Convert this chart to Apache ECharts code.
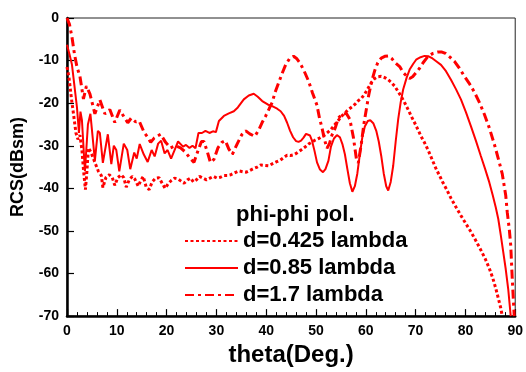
<!DOCTYPE html>
<html>
<head>
<meta charset="utf-8">
<script src="https://cdn.jsdelivr.net/npm/echarts@6/dist/echarts.min.js"></script>
<style>html,body{margin:0;padding:0;background:#fff}#c{width:526px;height:372px}</style>
</head>
<body>
<div id="c"></div>
<script>
// ---- data ----
const seriesNames = ['d=0.425 lambda', 'd=0.85 lambda', 'd=1.7 lambda'];
const legendTitle = 'phi-phi pol.';
const xTitle = 'theta(Deg.)';
const yTitle = 'RCS(dBsm)';

const thetaA = [0,0.4,0.9,1.3,1.8,2.2,2.6,3.0,3.3,3.7,4.0,4.3,4.8,5.3,5.8,6.3,6.9,7.2,7.8,8.5,9.1,9.6,10.2,10.9,11.4,11.9,12.5,13.1,13.6,14.3,14.8,15.3,15.9,16.5,17.1,17.8,18.5,19.1,19.7,20.4,20.9,21.6,22.3,22.9,23.5,24.2,24.8,25.4,26.0,26.6,27.3,28.0,28.7,29.4,30.1,30.8,31.5,32.2,32.9,33.6,34.5,35.3,36.0,36.7,37.4,38.2,38.9,39.7,40.5,41.3,42.0,42.8,43.5,44.2,44.9,45.6,46.3,47.0,47.8,48.5,49.2,49.8,50.7,51.5,52.3,53.0,53.8,54.5,55.2,55.9,56.5,57.2,57.8,58.5,59.1,59.8,60.5,61.1,61.8,62.4,63.1,63.8,64.5,65.1,65.8,66.4,67.1,67.8,68.5,69.1,69.8,70.5,71.1,71.8,72.5,73.3,74.1,74.8,75.5,76.2,77.1,78.1,79.1,80.1,81.1,82.1,83.1,84.0,84.8,85.5,86.1,86.6,87.1,87.4];
const rcsA = [-11.5,-14,-19,-22.5,-27,-28.5,-27.5,-31,-35.5,-40.3,-36,-30.5,-31.5,-33,-34.5,-36,-37,-39.8,-37.5,-36.8,-37.5,-39.3,-37.5,-36.8,-37.5,-39.7,-38,-37.2,-37.8,-39.5,-38.2,-37.2,-39.7,-40.3,-38.5,-37.6,-37.5,-38.8,-40,-38.8,-38.2,-37.6,-37.8,-38.3,-38.8,-38,-37.6,-38.5,-38,-37.2,-37.6,-38,-37.6,-37.2,-37.6,-37.4,-37,-37,-36.8,-36.4,-35.9,-36.1,-36.2,-35.8,-35.4,-35,-34.5,-34.6,-34.7,-34.2,-33.8,-33.4,-32.8,-32.2,-32.3,-32.1,-31.6,-31,-30.3,-29.6,-29.1,-28.7,-28.2,-27.6,-26.9,-26.2,-25,-24,-23,-22.2,-21.5,-20.9,-20.3,-19.4,-18.9,-17.8,-16.4,-15.2,-14.2,-13.8,-13.7,-14,-14.5,-15.1,-16,-17.1,-18.4,-19.9,-21.5,-23,-24.6,-26.3,-27.8,-29.3,-31,-33.2,-35.4,-37,-38.7,-40.2,-42.3,-44.4,-46.4,-48.3,-50.2,-52.3,-54.5,-56.6,-58.8,-61.1,-63.5,-65.8,-68.1,-70];

const thetaB = [0,0.5,1.0,1.5,2.0,2.4,2.7,3.0,3.6,4.2,4.7,5.6,6.2,6.6,7.2,8.2,8.9,9.4,9.9,10.5,11.4,12.1,12.7,13.5,14.0,14.6,15.4,16.2,17.0,17.6,18.3,18.9,19.6,20.2,20.9,21.6,22.3,22.7,23.3,23.9,24.6,25.2,25.8,26.4,27.1,27.8,28.6,29.3,29.9,30.5,31.5,32.5,33.5,34.3,35.5,36.5,37.5,38.3,39.2,40.3,41.2,42.2,42.9,43.6,44.2,44.8,45.4,46.0,46.5,47.0,47.5,48.0,48.4,48.8,49.2,49.7,50.2,50.8,51.4,51.9,52.5,53.0,53.6,54.2,54.8,55.3,55.8,56.3,56.8,57.3,57.8,58.3,58.8,59.3,59.8,60.4,60.9,61.5,62.1,62.6,63.1,63.6,64.1,64.5,65.0,65.5,66.0,66.5,67.0,67.5,68.2,68.8,69.5,70.1,71.0,71.8,72.6,73.4,74.2,75.1,76.1,77.1,78.1,79.1,80.1,81.1,82.1,83.1,84.0,84.8,85.5,86.1,86.6,87.1,87.6,88.1,88.6,89.1];
const rcsB = [-6.3,-8.5,-11,-16,-21,-27,-22,-24,-36,-25,-22.5,-33.5,-26.5,-27,-34,-27.3,-34.3,-30,-31,-36,-29.5,-31,-35.5,-31.6,-33,-29.6,-32,-33.8,-31,-32.5,-29.5,-28.8,-31.8,-31,-33,-31,-29,-29,-30.2,-29.8,-30.5,-30,-30.6,-27,-27,-26.5,-27,-26.6,-26.8,-24.2,-23,-22.4,-21.9,-21,-19.1,-18.2,-17.8,-18.5,-19.5,-20.3,-20.7,-21.3,-21.9,-23,-24.6,-26.5,-28,-28.9,-29.1,-28.8,-28.1,-27.2,-27,-27.6,-28.8,-31.2,-33.9,-35.6,-36.2,-35.5,-33.5,-30.2,-28.3,-27.5,-28,-29.6,-32,-35.5,-38.8,-40.8,-39.5,-36.5,-32,-28,-25.5,-24.2,-24,-24.7,-26.5,-29,-32.4,-36.5,-39.5,-40.5,-38.5,-34.7,-29,-23.8,-19.8,-16.8,-14,-12.1,-10.8,-9.8,-9.2,-8.9,-9,-9.5,-10.2,-11,-12.5,-14.5,-16.7,-19.1,-22.1,-25.4,-28.8,-32.4,-35.6,-38.6,-41.7,-44.5,-47.2,-51,-55,-59,-63.7,-70];

const thetaC = [0,0.5,1.0,1.5,2.0,2.6,3.3,3.9,4.6,5.6,6.6,7.6,8.6,9.6,10.6,11.6,12.2,12.9,13.8,14.5,15.5,16.2,16.8,17.5,18.2,18.8,19.8,20.8,21.8,22.8,23.8,24.8,25.5,26.2,27.0,27.5,28.2,28.8,29.5,30.3,31.1,31.8,32.5,33.2,34.2,35.1,35.9,36.7,37.7,38.5,39.2,39.9,40.6,41.2,41.8,42.5,43.2,43.9,44.7,45.5,46.1,46.8,47.6,48.5,49.3,50.2,50.7,51.2,51.7,52.2,52.7,53.2,53.8,54.5,55.2,56.1,56.8,57.5,58.1,58.5,59.1,59.6,60.1,60.6,61.2,61.8,62.4,63.1,63.8,64.5,65.2,65.9,66.8,67.5,68.1,68.8,69.4,70.1,70.8,71.5,72.5,73.5,74.5,75.3,76.0,76.9,77.8,78.8,79.8,80.8,81.8,82.8,83.8,84.8,85.8,86.6,87.4,88.1,88.4,88.8,89.1,89.4,89.8];
const rcsC = [0,-1.5,-4.5,-8.5,-11.5,-13.7,-19,-16,-17.8,-22.5,-19.2,-22.5,-21.5,-24.5,-21.6,-23.5,-24.6,-23.5,-24.4,-24.2,-26.9,-28,-29.2,-28.2,-27.7,-27.3,-29.2,-30.5,-30,-30.5,-31.5,-33.1,-33.9,-31.5,-29,-29,-31.5,-33.9,-33.2,-30.5,-29.2,-28.8,-30.8,-32,-29.5,-27.4,-26.5,-27.2,-27.8,-26.3,-24.5,-23,-21.3,-19.8,-17.4,-15.2,-13,-11,-9.5,-9,-9.5,-10.6,-12.4,-14.8,-17.6,-20.5,-23.5,-25.8,-28.5,-30.6,-29.5,-27.5,-26,-23.5,-22.6,-22.4,-23.8,-28,-33,-34,-29.5,-25,-21.5,-18,-14.8,-12.3,-10.5,-9.4,-9,-8.9,-9.5,-10.5,-11.4,-12.8,-13.5,-14.2,-13.8,-12.8,-11.8,-10.5,-9,-8.3,-8,-8,-8.3,-9.2,-10.2,-11.8,-13.7,-15.4,-17.4,-19.8,-22.6,-25.8,-29.6,-33,-36.6,-41.7,-45.6,-49.5,-53.4,-61.1,-70];

const xMin = 0, xMax = 90, xStep = 10;
const yMin = -70, yMax = 0, yStep = 10;

// ---- chart ----
const pair = (xs, ys) => xs.map((x, i) => [x, ys[i]]);
const FONT = 'Liberation Sans, Arial, sans-serif';
const RED = '#ff0000';
const chart = echarts.init(document.getElementById('c'), null, {renderer: 'canvas'});
chart.setOption({
  animation: false,
  backgroundColor: '#fff',
  grid: {left: 67, right: 8, top: 18, bottom: 54, show: true, borderColor: '#222', borderWidth: 1, backgroundColor: 'transparent'},
  xAxis: {
    type: 'value', min: xMin, max: xMax, interval: xStep,
    name: xTitle, nameLocation: 'middle', nameGap: 24,
    nameTextStyle: {fontFamily: FONT, fontWeight: 'bold', fontSize: 24, color: '#000'},
    axisLine: {show: true, onZero: false, lineStyle: {color: '#000', width: 2.5}},
    axisTick: {show: true, inside: true, length: 7, lineStyle: {color: '#000', width: 1.2}},
    minorTick: {show: true, splitNumber: 5, length: 4, lineStyle: {color: '#000', width: 1}},
    axisLabel: {margin: 8, fontFamily: FONT, fontWeight: 'bold', fontSize: 14, color: '#000'},
    splitLine: {show: false}
  },
  yAxis: {
    type: 'value', min: yMin, max: yMax, interval: yStep,
    name: yTitle, nameLocation: 'middle', nameGap: 40, nameRotate: 90,
    nameTextStyle: {fontFamily: FONT, fontWeight: 'bold', fontSize: 18, color: '#000'},
    axisLine: {show: true, onZero: false, lineStyle: {color: '#000', width: 2.5}},
    axisTick: {show: true, inside: true, length: 7, lineStyle: {color: '#000', width: 1.2}},
    axisLabel: {margin: 8, fontFamily: FONT, fontWeight: 'bold', fontSize: 14, color: '#000'},
    splitLine: {show: false}
  },
  title: {
    text: legendTitle, left: 236, top: 204, padding: 0,
    textStyle: {fontFamily: FONT, fontWeight: 'bold', fontSize: 22, color: '#000'}
  },
  legend: {
    orient: 'vertical', left: 184, top: 230, padding: 0,
    itemWidth: 53, itemHeight: 12, itemGap: 5,
    itemStyle: {color: 'rgba(0,0,0,0)', borderWidth: 0, opacity: 0},
    textStyle: {fontFamily: FONT, fontWeight: 'bold', fontSize: 22, lineHeight: 22, color: '#000'},
    data: seriesNames
  },
  series: [
    {name: seriesNames[0], type: 'line', symbol: 'none', data: pair(thetaA, rcsA),
     lineStyle: {color: RED, width: 3, type: [3, 2.5]}, itemStyle: {color: RED}},
    {name: seriesNames[1], type: 'line', symbol: 'none', data: pair(thetaB, rcsB),
     lineStyle: {color: RED, width: 2}, itemStyle: {color: RED}},
    {name: seriesNames[2], type: 'line', symbol: 'none', data: pair(thetaC, rcsC),
     lineStyle: {color: RED, width: 3, type: [9, 4, 3, 4]}, itemStyle: {color: RED}}
  ]
});
</script>
</body>
</html>
